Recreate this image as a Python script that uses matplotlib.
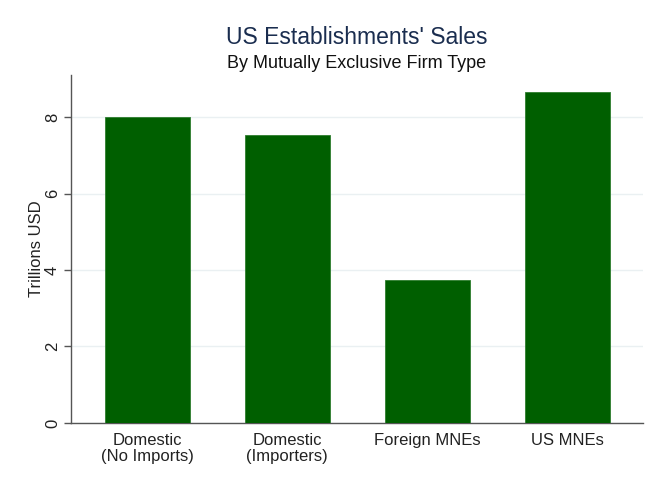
import matplotlib
matplotlib.use("Agg")
import matplotlib.pyplot as plt

plt.rcParams['font.family'] = ['Liberation Sans', 'DejaVu Sans']

# ----------------------------
# DATA
# ----------------------------
firm_types = ["Domestic\n(No Imports)", "Domestic\n(Importers)", "Foreign MNEs", "US MNEs"]
sales_trillions = [8.0, 7.53, 3.75, 8.65]
y_ticks = [0, 2, 4, 6, 8]

# ----------------------------
# PLOT
# ----------------------------
fig = plt.figure(figsize=(6.55, 4.8), dpi=100)
ax = fig.add_axes([0.1084, 0.1188, 0.8733, 0.725])

positions = list(range(1, len(firm_types) + 1))
ax.bar(positions, sales_trillions, width=0.607, color='#005f00',
       edgecolor='#2e7d2e', linewidth=0.6, zorder=3)

ax.set_xlim(0.455, 4.54)
ax.set_ylim(0, 9.1)
ax.set_yticks(y_ticks)
ax.set_yticklabels([str(t) for t in y_ticks], rotation=90, va='center', fontsize=12)
ax.set_xticks(positions)
ax.set_xticklabels(firm_types, fontsize=12, linespacing=1.15)
ax.tick_params(axis='x', length=0, pad=7, colors='#222222')
ax.tick_params(axis='y', length=5, width=1, color='#555555', labelcolor='#222222', pad=3)

ax.grid(axis='y', color='#eaf0f2', linewidth=1, zorder=0)
for side in ['top', 'right']:
    ax.spines[side].set_visible(False)
for side in ['left', 'bottom']:
    ax.spines[side].set_color('#555555')
    ax.spines[side].set_linewidth(1)

ax.set_ylabel("Trillions USD", fontsize=12, color='#222222')
ax.yaxis.set_label_coords(-0.048, 0.5)

fig.text(0.545, 0.921, "US Establishments' Sales", ha='center', va='center',
         fontsize=16.5, color='#1a2d4f')
fig.text(0.545, 0.868, "By Mutually Exclusive Firm Type", ha='center', va='center',
         fontsize=13, color='#111111')

fig.savefig("out.png", dpi=100, facecolor='white')
